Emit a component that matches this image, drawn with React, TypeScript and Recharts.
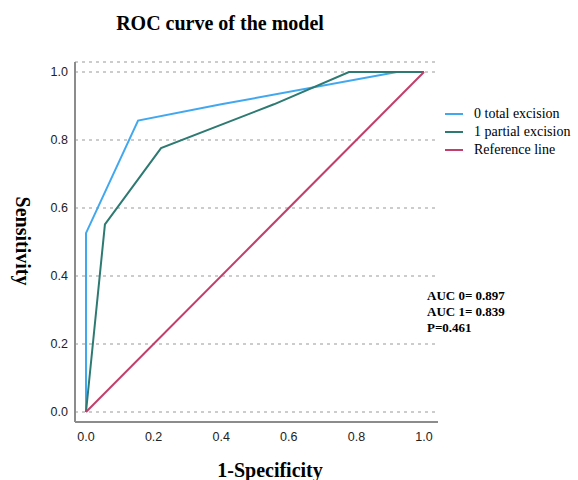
import { CartesianGrid, Line, LineChart, XAxis, YAxis } from "recharts";

// ROC points (x = 1 - specificity, y = sensitivity)
const totalFpr = [0, 0, 0.154, 0.4, 0.92, 1];
const totalTpr = [0, 0.526, 0.857, 0.905, 1, 1];

const partialFpr = [0, 0.056, 0.222, 0.556, 0.778, 1];
const partialTpr = [0, 0.552, 0.776, 0.905, 1, 1];

const refFpr = [0, 1];
const refTpr = [0, 1];

const ticks = [0, 0.2, 0.4, 0.6, 0.8, 1];

const seriesNames = ["0 total excision", "1 partial excision", "Reference line"];
const seriesColors = ["#41a8f0", "#2d7a72", "#c23f6b"];
const aucLines = ["AUC 0= 0.897", "AUC 1= 0.839", "P=0.461"];

const toPoints = (xs: number[], ys: number[]) =>
  xs.map((x, i) => ({ x, y: ys[i] }));

const serif = "'Liberation Serif', 'Times New Roman', serif";
const sans = "'Liberation Sans', Arial, sans-serif";

export default function App() {
  const series = [
    toPoints(totalFpr, totalTpr),
    toPoints(partialFpr, partialTpr),
    toPoints(refFpr, refTpr),
  ];

  return (
    <div
      style={{
        position: "absolute",
        left: 0,
        top: 0,
        width: 578,
        height: 480,
        background: "#fff",
      }}
    >
      <div
        style={{
          position: "absolute",
          top: 12,
          left: 0,
          width: 440,
          textAlign: "center",
          fontFamily: serif,
          fontWeight: "bold",
          fontSize: 20,
        }}
      >
        ROC curve of the model
      </div>

      <LineChart
        width={578}
        height={480}
        margin={{ top: 62, right: 140, bottom: 28, left: 40 }}
      >
        <CartesianGrid
          horizontal
          vertical={false}
          stroke="#cccccc"
          strokeWidth={2}
          strokeDasharray="3 4"
        />
        <XAxis
          type="number"
          dataKey="x"
          domain={[0, 1]}
          ticks={ticks}
          tickFormatter={(v: number) => v.toFixed(1)}
          padding={{ left: 11, right: 14 }}
          height={30}
          tickLine={false}
          tickSize={0}
          tickMargin={10}
          stroke="#8c8c8c"
          strokeWidth={2}
          tick={{ fill: "#222", fontSize: 12.5, fontFamily: sans }}
          allowDuplicatedCategory={false}
        />
        <YAxis
          type="number"
          dataKey="y"
          domain={[0, 1]}
          ticks={ticks}
          tickFormatter={(v: number) => v.toFixed(1)}
          padding={{ top: 10, bottom: 10 }}
          width={35}
          tickLine={false}
          tickSize={0}
          tickMargin={7}
          stroke="#8c8c8c"
          strokeWidth={2}
          tick={{ fill: "#222", fontSize: 12.5, fontFamily: sans }}
        />
        {series.map((data, i) => (
          <Line
            key={seriesNames[i]}
            data={data}
            dataKey="y"
            name={seriesNames[i]}
            type="linear"
            stroke={seriesColors[i]}
            strokeWidth={2}
            dot={false}
            activeDot={false}
            isAnimationActive={false}
          />
        ))}
      </LineChart>

      {/* y axis title, reads top to bottom */}
      <div
        style={{
          position: "absolute",
          left: 22,
          top: 241,
          transform: "translate(-50%, -50%) rotate(90deg)",
          fontFamily: serif,
          fontWeight: "bold",
          fontSize: 20,
          whiteSpace: "nowrap",
        }}
      >
        Sensitivity
      </div>

      <div
        style={{
          position: "absolute",
          left: 170,
          width: 200,
          top: 459,
          textAlign: "center",
          fontFamily: serif,
          fontWeight: "bold",
          fontSize: 20,
        }}
      >
        1-Specificity
      </div>

      {/* legend */}
      <div style={{ position: "absolute", left: 445, top: 105, fontFamily: serif, fontSize: 14 }}>
        {seriesNames.map((name, i) => (
          <div key={name} style={{ display: "flex", alignItems: "center", height: 18 }}>
            <span
              style={{
                display: "inline-block",
                width: 18,
                height: 2,
                background: seriesColors[i],
                marginRight: 11,
              }}
            />
            <span>{name}</span>
          </div>
        ))}
      </div>

      {/* AUC annotation */}
      <div
        style={{
          position: "absolute",
          left: 427,
          top: 288,
          fontFamily: serif,
          fontWeight: "bold",
          fontSize: 13,
          lineHeight: "16px",
        }}
      >
        {aucLines.map((t) => (
          <div key={t}>{t}</div>
        ))}
      </div>
    </div>
  );
}
